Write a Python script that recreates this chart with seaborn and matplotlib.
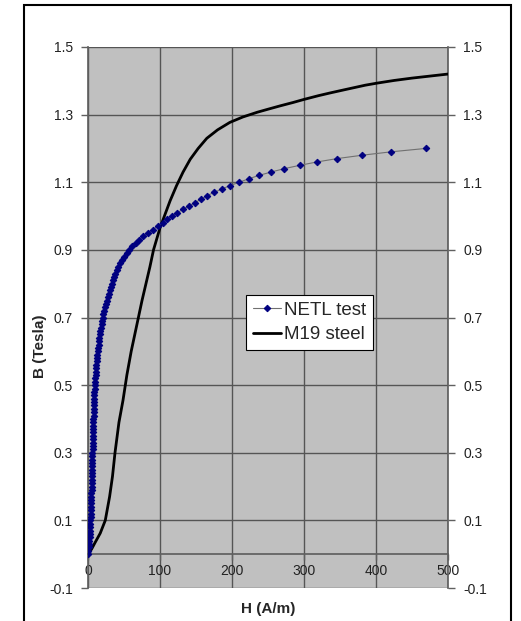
import numpy as np
import matplotlib
matplotlib.use('Agg')
import matplotlib.pyplot as plt
import seaborn as sns
import pandas as pd
from matplotlib.patches import Rectangle

# NETL test: flux density steps and the field
netl_b = [0.00, 0.01, 0.02, 0.03, 0.04, 0.05, 0.06, 0.07, 0.08, 0.09,
          0.10, 0.11, 0.12, 0.13, 0.14, 0.15, 0.16, 0.17, 0.18, 0.19,
          0.20, 0.21, 0.22, 0.23, 0.24, 0.25, 0.26, 0.27, 0.28, 0.29,
          0.30, 0.31, 0.32, 0.33, 0.34, 0.35, 0.36, 0.37, 0.38, 0.39,
          0.40, 0.41, 0.42, 0.43, 0.44, 0.45, 0.46, 0.47, 0.48, 0.49,
          0.50, 0.51, 0.52, 0.53, 0.54, 0.55, 0.56, 0.57, 0.58, 0.59,
          0.60, 0.61, 0.62, 0.63, 0.64, 0.65, 0.66, 0.67, 0.68, 0.69,
          0.70, 0.71, 0.72, 0.73, 0.74, 0.75, 0.76, 0.77, 0.78, 0.79,
          0.80, 0.81, 0.82, 0.83, 0.84, 0.85, 0.86, 0.87, 0.88, 0.89,
          0.90, 0.91, 0.92, 0.93, 0.94, 0.95, 0.96, 0.97, 0.98, 0.99,
          1.00, 1.01, 1.02, 1.03, 1.04, 1.05, 1.06, 1.07, 1.08, 1.09,
          1.10, 1.11, 1.12, 1.13, 1.14, 1.15, 1.16, 1.17, 1.18, 1.19,
          1.20]
netl_h = [0.0, 0.5, 1.0, 1.4, 1.8, 2.1, 2.4, 2.7, 3.0, 3.2,
          3.4, 3.6, 3.8, 4.0, 4.1, 4.3, 4.4, 4.6, 4.7, 4.9,
          5.0, 5.1, 5.2, 5.4, 5.5, 5.6, 5.7, 5.8, 6.0, 6.1,
          6.2, 6.3, 6.5, 6.6, 6.7, 6.9, 7.0, 7.1, 7.2, 7.4,
          7.5, 7.7, 7.8, 8.0, 8.1, 8.3, 8.5, 8.8, 9.0, 9.3,
          9.6, 9.9, 10.2, 10.5, 10.8, 11.2, 11.6, 12.0, 12.5, 13.0,
          13.5, 14.1, 14.6, 15.2, 15.8, 16.5, 17.2, 18.0, 18.8, 19.6,
          20.5, 21.5, 22.5, 23.6, 24.8, 26.0, 27.3, 28.6, 30.0, 31.5,
          33.0, 34.6, 36.3, 38.1, 40.0, 42.0, 44.5, 47.0, 50.0, 53.5,
          57.0, 61.0, 66.0, 71.0, 77.0, 83.0, 90.0, 97.0, 104.0, 110.0,
          117.0, 124.0, 132.0, 140.0, 149.0, 157.0, 165.0, 175.0, 186.0, 197.0,
          210.0, 223.0, 237.0, 254.0, 272.0, 294.0, 318.0, 346.0, 381.0, 421.0,
          469.0]

# M19 steel curve
m19_h = [0, 5, 10, 17, 24, 30, 34, 37.5, 43, 48.6, 54, 60, 65, 70, 75,
         80.5, 86, 91, 100, 107, 114, 123, 132, 142, 153, 165, 180, 197,
         215, 235, 250, 267, 285, 300, 320, 336, 355, 370, 385, 401, 425,
         450, 475, 500]
m19_b = [0, 0.015, 0.035, 0.062, 0.1, 0.17, 0.23, 0.3, 0.39, 0.455, 0.53,
         0.6, 0.65, 0.7, 0.75, 0.8, 0.85, 0.9, 0.965, 1.005, 1.045, 1.09,
         1.13, 1.168, 1.2, 1.23, 1.255, 1.277, 1.293, 1.307, 1.316, 1.326,
         1.336, 1.345, 1.356, 1.364, 1.373, 1.38, 1.387, 1.393, 1.401,
         1.408, 1.414, 1.42]

y_ticks = [-0.1, 0.1, 0.3, 0.5, 0.7, 0.9, 1.1, 1.3, 1.5]
x_ticks = [0, 100, 200, 300, 400, 500]

sns.set_theme(style='white')
plt.rcParams['font.family'] = ['Liberation Sans', 'DejaVu Sans']
plt.rcParams['axes.unicode_minus'] = False

W, H = 521, 621
fig = plt.figure(figsize=(W / 100, H / 100), dpi=100)
ax = fig.add_axes([88 / W, 1 - 588 / H, 360 / W, 541 / H])
ax.set_facecolor('#c0c0c0')

netl = pd.DataFrame({'H': netl_h, 'B': netl_b})
m19 = pd.DataFrame({'H': m19_h, 'B': m19_b})

sns.lineplot(data=netl, x='H', y='B', ax=ax, sort=False, estimator=None,
             color='#707070', lw=0.8, marker='D', markersize=3.3,
             markerfacecolor='#000080', markeredgecolor='#000080',
             label='NETL test', zorder=4)
sns.lineplot(data=m19, x='H', y='B', ax=ax, sort=False, estimator=None,
             color='black', lw=2, label='M19 steel', zorder=3)

ax.set_xlim(0, 500)
ax.set_ylim(-0.1, 1.5)
ax.set_xticks(x_ticks)
ax.set_yticks(y_ticks)
ax.set_yticklabels([f'{v:.1f}' for v in y_ticks])
ax.set_xticklabels([str(v) for v in x_ticks])

ax.set_axisbelow(True)
ax.grid(True, color='#555555', lw=1)

ax.spines['top'].set_visible(False)
ax.spines['left'].set_color('#606060')
ax.spines['right'].set_color('#606060')
ax.spines['bottom'].set_color('#606060')
ax.spines['bottom'].set_position(('data', 0))

ax.tick_params(axis='y', left=True, right=True, labelleft=True, labelright=True,
               direction='out', length=5, width=1, color='#606060',
               labelsize=10, labelcolor='#222222', pad=6)
ax.tick_params(axis='x', bottom=True, direction='out', length=4, width=1,
               color='#606060', labelsize=10, labelcolor='#222222', pad=3)

ax.set_xlabel('')
ax.set_ylabel('')
fig.text(268 / W, 1 - 609 / H, 'H (A/m)', ha='center', va='center',
         fontsize=11, fontweight='bold')
fig.text(40 / W, 1 - 346 / H, 'B (Tesla)', ha='center', va='center',
         rotation=90, fontsize=11, fontweight='bold')

leg = ax.legend(loc='upper left', bbox_to_anchor=((246 - 88) / 360, (588 - 295) / 541),
                borderaxespad=0, frameon=True, fancybox=False, fontsize=13.5,
                handlelength=1.5, handletextpad=0.2, labelspacing=0.4,
                borderpad=0.35)
leg.get_frame().set_edgecolor('black')
leg.get_frame().set_linewidth(0.8)
leg.get_frame().set_facecolor('white')
leg.get_frame().set_alpha(1)

fig.patches.append(Rectangle((24 / W, -0.01), (511 - 24) / W, 1 - 5 / H + 0.01,
                             transform=fig.transFigure, fill=False,
                             edgecolor='black', lw=1.5))

fig.savefig('out.png', dpi=100)
